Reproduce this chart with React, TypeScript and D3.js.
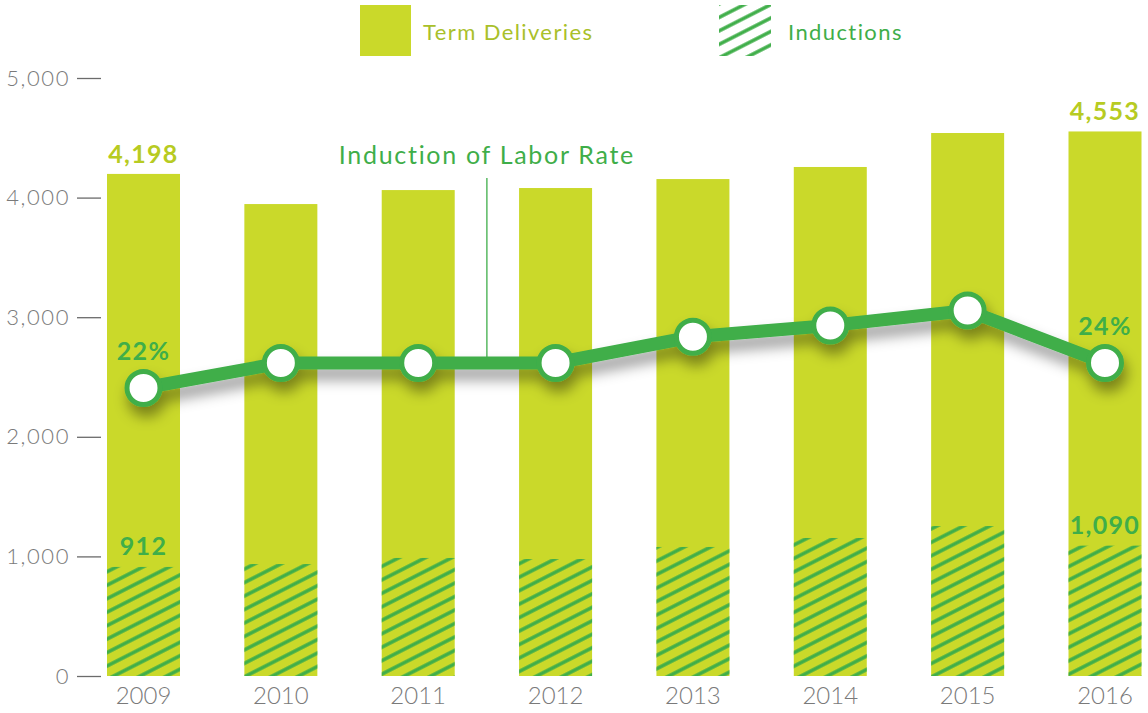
import React, { useEffect, useRef } from 'react';
import * as d3 from 'd3';

const years = ['2009', '2010', '2011', '2012', '2013', '2014', '2015', '2016'];
const termDeliveries = [4198, 3946, 4063, 4080, 4155, 4256, 4540, 4553];
const inductions = [912, 936, 987, 978, 1079, 1154, 1254, 1090];
const inductionRate = [22, 24, 24, 24, 26.1, 27, 28.2, 24];
const yTicks = [0, 1000, 2000, 3000, 4000, 5000];

const BAR = '#cad92a';
const BAR_LABEL = '#b7cb22';
const GREEN = '#3fae49';
const GREY = '#7a7a7a';

const App = () => {
  const chartRef = useRef<SVGSVGElement>(null);

  useEffect(() => {
    const svg = d3.select(chartRef.current);
    svg.selectAll('*').remove();
    svg.attr('width', 1148).attr('height', 713);

    const defs = svg.append('defs');
    const pat = defs.append('pattern')
      .attr('id', 'hatch')
      .attr('patternUnits', 'userSpaceOnUse')
      .attr('width', 12)
      .attr('height', 12)
      .attr('patternTransform', 'rotate(-27)');
    pat.append('line')
      .attr('x1', -2).attr('x2', 14)
      .attr('y1', 6).attr('y2', 6)
      .attr('stroke', GREEN)
      .attr('stroke-width', 3.5);

    const shadow = defs.append('filter')
      .attr('id', 'shadow')
      .attr('x', '-10%').attr('y', '-50%')
      .attr('width', '120%').attr('height', '250%');
    shadow.append('feDropShadow')
      .attr('dx', 3).attr('dy', 10)
      .attr('stdDeviation', 7)
      .attr('flood-color', '#000')
      .attr('flood-opacity', 0.4);

    const x = d3.scalePoint<string>().domain(years).range([143.5, 1105]);
    const barW = 73;
    const y = d3.scaleLinear().domain([0, 5000]).range([676, 78]);
    const yRate = d3.scaleLinear().domain([0, 40]).range([663, 163]);

    const font = 'Lato, "Open Sans", sans-serif';

    // y axis ticks
    const axis = svg.append('g').attr('transform', 'translate(101,0)')
      .call(d3.axisLeft(y).tickValues(yTicks).tickSize(24).tickPadding(7).tickFormat(d3.format(',')));
    axis.select('.domain').remove();
    axis.selectAll('line').attr('stroke', '#6b6b6b').attr('stroke-width', 1.3);
    axis.selectAll('text')
      .attr('fill', GREY)
      .attr('font-family', font)
      .attr('font-weight', 300)
      .attr('font-size', 22)
      .attr('letter-spacing', 1.6);

    // bars
    svg.append('g').selectAll('rect')
      .data(years)
      .join('rect')
      .attr('x', (d) => x(d)! - barW / 2)
      .attr('y', (d, i) => y(termDeliveries[i]))
      .attr('width', barW)
      .attr('height', (d, i) => y(0) - y(termDeliveries[i]))
      .attr('fill', BAR);

    svg.append('g').selectAll('rect')
      .data(years)
      .join('rect')
      .attr('x', (d) => x(d)! - barW / 2)
      .attr('y', (d, i) => y(inductions[i]))
      .attr('width', barW)
      .attr('height', (d, i) => y(0) - y(inductions[i]))
      .attr('fill', 'url(#hatch)');

    // x labels
    svg.append('g').selectAll('text')
      .data(years)
      .join('text')
      .attr('x', (d) => x(d)!)
      .attr('y', 704)
      .attr('text-anchor', 'middle')
      .attr('fill', GREY)
      .attr('font-family', font)
      .attr('font-weight', 300)
      .attr('font-size', 24)
      .text((d) => d);

    // annotation
    const mid = (x('2011')! + x('2012')!) / 2;
    svg.append('line')
      .attr('x1', mid).attr('x2', mid)
      .attr('y1', 178).attr('y2', yRate(24))
      .attr('stroke', GREEN)
      .attr('stroke-width', 1.3);
    svg.append('text')
      .attr('x', mid)
      .attr('y', 164)
      .attr('text-anchor', 'middle')
      .attr('fill', GREEN)
      .attr('font-family', font)
      .attr('font-size', 25)
      .attr('letter-spacing', 1.7)
      .text('Induction of Labor Rate');

    // rate line
    const lineG = svg.append('g').attr('filter', 'url(#shadow)');
    const line = d3.line<number>()
      .x((d, i) => x(years[i])!)
      .y((d) => yRate(d));
    lineG.append('path')
      .datum(inductionRate)
      .attr('d', line)
      .attr('fill', 'none')
      .attr('stroke', GREEN)
      .attr('stroke-width', 13)
      .attr('stroke-linejoin', 'round');
    lineG.selectAll('circle')
      .data(inductionRate)
      .join('circle')
      .attr('cx', (d, i) => x(years[i])!)
      .attr('cy', (d) => yRate(d))
      .attr('r', 16.5)
      .attr('fill', '#fff')
      .attr('stroke', GREEN)
      .attr('stroke-width', 5);

    // value labels (first and last)
    const ends = [0, years.length - 1];
    const boldLabel = (xx: number, yy: number, txt: string, color: string) =>
      svg.append('text')
        .attr('x', xx)
        .attr('y', yy)
        .attr('text-anchor', 'middle')
        .attr('fill', color)
        .attr('font-family', font)
        .attr('font-weight', 700)
        .attr('font-size', 25)
        .attr('letter-spacing', 1.3)
        .text(txt);

    ends.forEach((i) => {
      const cx = x(years[i])!;
      boldLabel(cx, y(termDeliveries[i]) - 11, d3.format(',')(termDeliveries[i]), BAR_LABEL);
      boldLabel(cx, y(inductions[i]) - 12, d3.format(',')(inductions[i]), GREEN);
      boldLabel(cx, yRate(inductionRate[i]) - 28, `${Math.round(inductionRate[i])}%`, GREEN);
    });

    // legend
    const legend = svg.append('g');
    legend.append('rect').attr('x', 360).attr('y', 5).attr('width', 51).attr('height', 51).attr('fill', BAR);
    legend.append('text')
      .attr('x', 423).attr('y', 40)
      .attr('fill', '#a9c02a')
      .attr('font-family', font)
      .attr('font-size', 22)
      .attr('letter-spacing', 1.4)
      .text('Term Deliveries');
    legend.append('rect').attr('x', 719).attr('y', 5).attr('width', 52).attr('height', 51).attr('fill', 'url(#hatch)');
    legend.append('text')
      .attr('x', 788).attr('y', 40)
      .attr('fill', GREEN)
      .attr('font-family', font)
      .attr('font-size', 22)
      .attr('letter-spacing', 1.4)
      .text('Inductions');
  }, []);

  return <svg ref={chartRef} style={{ position: 'absolute', left: 0, top: 0 }}></svg>;
};

export default App;
